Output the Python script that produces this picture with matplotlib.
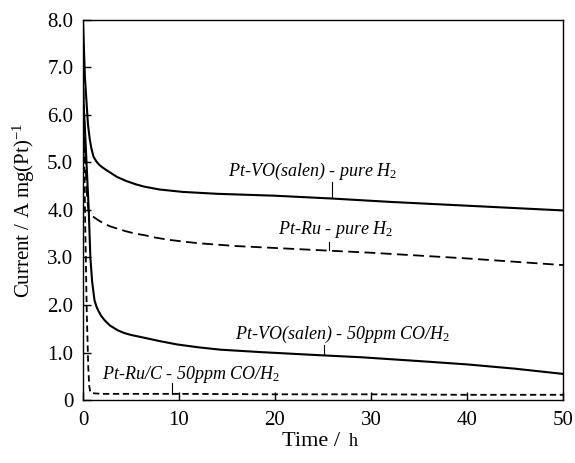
import matplotlib
matplotlib.use('Agg')
import matplotlib.pyplot as plt

# time (h) and current (A mg(Pt)^-1)
t_vo_pure = [0, 0.2, 0.52, 0.7, 0.87, 1.1, 1.4, 1.7, 2.0, 2.5, 2.9, 3.5, 4.5, 5.5, 6.4, 8, 10.4, 14, 20, 26, 32, 40, 45, 50]
i_vo_pure = [8.0, 6.8, 5.8, 5.5, 5.3, 5.12, 5.02, 4.95, 4.9, 4.83, 4.78, 4.7, 4.61, 4.54, 4.49, 4.43, 4.38, 4.34, 4.3, 4.24, 4.17, 4.09, 4.04, 3.99]

t_ru_pure = [0, 0.15, 0.3, 0.45, 0.6, 0.9, 1.2, 1.55, 2.2, 2.9, 3.7, 4.5, 5.5, 6.4, 7.5, 9, 12, 16, 20, 26, 30, 35, 40, 45, 50]
i_ru_pure = [6.9, 5.8, 4.8, 4.2, 3.96, 3.88, 3.84, 3.79, 3.71, 3.65, 3.6, 3.55, 3.5, 3.47, 3.42, 3.37, 3.3, 3.24, 3.2, 3.14, 3.1, 3.04, 2.98, 2.91, 2.84]

t_vo_co = [0, 0.3, 0.6, 0.77, 0.95, 1.2, 1.4, 1.6, 1.9, 2.25, 2.8, 3.6, 4.3, 5, 6.4, 8, 9.8, 12, 14.3, 18.4, 24, 29, 35, 40, 45, 50]
i_vo_co = [6.5, 5.3, 4.0, 3.0, 2.5, 2.1, 1.97, 1.88, 1.77, 1.68, 1.57, 1.47, 1.41, 1.37, 1.31, 1.24, 1.17, 1.11, 1.06, 1.01, 0.95, 0.9, 0.82, 0.75, 0.66, 0.55]

t_ru_co = [0, 0.1, 0.25, 0.4, 0.55, 0.65, 0.75, 0.9, 1.2, 2, 10, 20, 30, 40, 50]
i_ru_co = [7.0, 5.5, 3.5, 1.8, 0.7, 0.3, 0.18, 0.15, 0.14, 0.13, 0.13, 0.12, 0.12, 0.11, 0.11]

x_ticks = [0, 10, 20, 30, 40, 50]
y_ticks = [0, 1, 2, 3, 4, 5, 6, 7, 8]
y_tick_labels = ['0', '1.0', '2.0', '3.0', '4.0', '5.0', '6.0', '7.0', '8.0']

plt.rcParams['font.family'] = ['Liberation Serif', 'DejaVu Serif']
plt.rcParams['mathtext.fontset'] = 'custom'
plt.rcParams['mathtext.rm'] = 'Liberation Serif'
plt.rcParams['mathtext.it'] = 'Liberation Serif:italic'

fig = plt.figure(figsize=(5.75, 4.63), dpi=100)
ax = fig.add_axes([0.1443, 0.136, 0.8347, 0.821])

ax.plot(t_vo_pure, i_vo_pure, color='black', lw=1.5)
ax.plot(t_ru_pure, i_ru_pure, color='black', lw=1.3, dashes=(6, 3))
ax.plot(t_vo_co, i_vo_co, color='black', lw=1.5)
ax.plot(t_ru_co, i_ru_co, color='black', lw=1.3, dashes=(3.5, 2))

ax.set_xlim(0, 50)
ax.set_ylim(0, 8)
ax.set_xticks(x_ticks)
ax.set_yticks(y_ticks)
ax.set_yticklabels(y_tick_labels)
ax.tick_params(direction='in', length=6, width=1, labelsize=15)
ax.tick_params(axis='x', pad=8)
ax.tick_params(axis='y', pad=7)
for s in ax.spines.values():
    s.set_linewidth(1)

ax.set_ylabel('Current / A mg(Pt)$^{-1}$', fontsize=15, labelpad=7)
# x label: "h" set smaller, like the original, on a shared baseline
fig.text(346 / 575, 1 - 446 / 463, 'Time / ', fontsize=16, ha='right', va='baseline')
fig.text(349 / 575, 1 - 446 / 463, 'h', fontsize=13, ha='left', va='baseline')

# labels with small leader lines
labels = [
    ('Pt-VO(salen) - pure H$_{\\mathit{2}}$', 23.9, 4.82, 25.9, 4.59, 4.25),
    ('Pt-Ru - pure H$_{\\mathit{2}}$', 26.3, 3.58, 25.6, 3.33, 3.16),
    ('Pt-VO(salen) - 50ppm CO/H$_{\\mathit{2}}$', 27.0, 1.37, 25.1, 1.16, 0.95),
    ('Pt-Ru/C - 50ppm CO/H$_{\\mathit{2}}$', 11.3, 0.53, 9.3, 0.36, 0.13),
]
for txt, tx, ty, lx, y0, y1 in labels:
    ax.text(tx, ty, txt, fontsize=13, style='italic', ha='center', va='center')
    ax.plot([lx, lx], [y0, y1], color='black', lw=0.8)

fig.savefig('out.png', dpi=100)
